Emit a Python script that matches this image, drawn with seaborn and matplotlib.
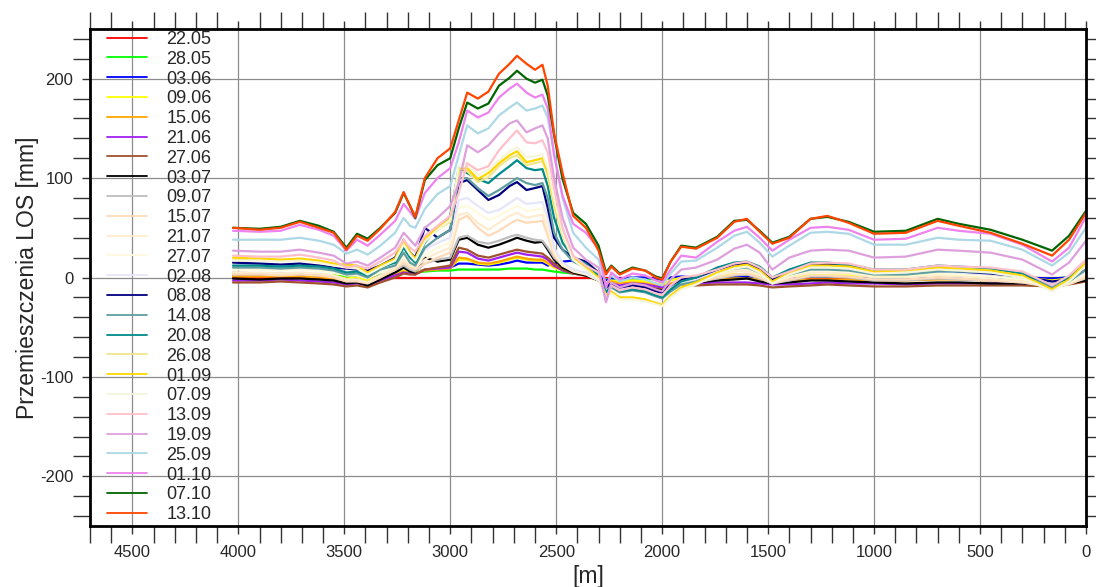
import numpy as np
import pandas as pd
import matplotlib
matplotlib.use("Agg")
import matplotlib.pyplot as plt
from matplotlib.ticker import MultipleLocator
import seaborn as sns

# distance along profile [m]
dist = [4025, 3900, 3800, 3710, 3620, 3550, 3490, 3440, 3390, 3330,
        3260, 3220, 3190, 3165, 3120, 3060, 3000, 2960, 2920, 2870,
        2820, 2770, 2720, 2685, 2640, 2600, 2565, 2540, 2510, 2470,
        2420, 2360, 2300, 2265, 2240, 2200, 2140, 2080, 2030, 2000,
        1960, 1910, 1840, 1740, 1660, 1600, 1540, 1480, 1400, 1300,
        1220, 1120, 1000, 850, 700, 600, 450, 300, 160, 80, 0]

d2205 = [0] * 61
d2805 = [3, 3, 3, 3, 3, 2, 1, 1, 0, 3,
         4, 5, 5, 5, 6, 7, 7, 8, 8, 8,
         8, 8, 9, 9, 9, 8, 8, 7, 6, 5,
         4, 2, 0, -2, -1, -2, -1, -1, -2, -2,
         -1, 0, 0, 1, 1, 1, 1, 0, 0, 1,
         1, 1, 0, 0, 0, 0, 0, 0, -1, 0, 1]
d0306 = [3, 3, 2, 3, 2, 1, -1, 0, -2, 2,
         4, 6, 5, 5, 8, 9, 10, 14, 14, 13,
         12, 13, 15, 17, 15, 15, 15, 12, 14, 16,
         17, 15, 2, -3, -1, -1, 0, 0, -1, -2,
         0, 1, 0, 1, 1, 1, 0, -1, 0, 1,
         1, 1, 0, 0, 1, 1, 0, 0, -1, 0, 2]
d0906 = [4, 4, 3, 4, 3, 2, -1, 0, -3, 2,
         4, 7, 5, 5, 8, 9, 10, 18, 18, 14,
         13, 15, 18, 20, 18, 17, 17, 14, 10, 7,
         5, 3, 0, -5, -3, -4, -3, -4, -6, -7,
         -3, 0, 1, 2, 3, 3, 2, 0, 1, 2,
         2, 2, 1, 1, 2, 2, 1, 0, -3, -1, 3]
d1506 = [1, 1, 1, 1, 0, -1, -4, -3, -5, 0,
         3, 6, 4, 4, 7, 8, 9, 20, 19, 15,
         14, 16, 19, 21, 19, 18, 18, 15, 11, 8,
         6, 3, -1, -6, -4, -6, -5, -6, -8, -9,
         -6, -3, -3, -2, -1, -1, -2, -4, -3, -2,
         -2, -2, -3, -3, -2, -2, -3, -3, -6, -4, 0]
d2106 = [-3, -3, -2, -3, -4, -5, -7, -6, -8, -3,
         2, 5, 4, 3, 8, 9, 10, 26, 25, 19,
         17, 20, 23, 25, 23, 22, 21, 18, 12, 7,
         4, 2, -2, -8, -6, -8, -6, -7, -9, -10,
         -8, -5, -6, -5, -5, -5, -6, -7, -7, -6,
         -5, -6, -6, -7, -6, -6, -6, -6, -10, -6, -2]
d2706 = [-5, -5, -4, -5, -6, -7, -9, -8, -10, -5,
         0, 4, 3, 3, 8, 10, 12, 30, 28, 22,
         20, 23, 26, 28, 26, 25, 24, 20, 14, 8,
         4, 2, -3, -10, -8, -10, -8, -9, -11, -12,
         -10, -7, -8, -7, -7, -7, -8, -10, -9, -8,
         -7, -8, -9, -9, -8, -8, -8, -8, -9, -7, -4]
d0307 = [-1, -2, -1, -1, -2, -3, -6, -5, -8, -2,
         5, 10, 6, 5, 20, 16, 18, 38, 40, 33,
         30, 33, 37, 40, 37, 35, 36, 28, 18, 10,
         5, 2, -3, -10, -8, -10, -8, -9, -12, -13,
         -9, -5, -5, -3, -2, -1, -4, -6, -5, -3,
         -3, -4, -5, -6, -5, -5, -6, -6, -8, -6, -3]
d0907 = [5, 4, 4, 4, 3, 1, -3, -2, -5, 1,
         8, 12, 8, 6, 14, 18, 20, 40, 42, 36,
         34, 37, 41, 43, 40, 38, 37, 30, 20, 12,
         8, 4, -2, -10, -8, -11, -9, -11, -14, -16,
         -11, -6, -5, -1, 2, 3, -1, -6, -3, 1,
         1, 0, -3, -3, -1, -2, -3, -5, -9, -6, -1]
d1507 = [3, 3, 2, 3, 2, 0, -4, -4, -6, 0,
         8, 15, 10, 8, 14, 20, 25, 58, 62, 50,
         42, 47, 54, 58, 55, 56, 57, 42, 22, 12,
         8, 4, -2, -10, -8, -12, -10, -12, -15, -17,
         -12, -7, -5, 0, 3, 4, 0, -6, -2, 2,
         2, 1, -2, -2, 0, -1, -3, -5, -10, -7, 0]
d2107 = [5, 5, 4, 5, 4, 2, -2, -2, -5, 2,
         10, 18, 12, 10, 18, 25, 30, 63, 65, 55,
         48, 55, 62, 65, 60, 62, 63, 48, 25, 12,
         6, 3, -3, -12, -9, -13, -11, -13, -16, -18,
         -12, -6, -4, 2, 6, 7, 2, -5, 0, 5,
         5, 4, 0, 0, 2, 1, -1, -4, -9, -6, 2]
d2707 = [8, 8, 7, 8, 7, 5, 2, 2, -1, 5,
         12, 22, 15, 12, 22, 30, 35, 70, 72, 65,
         58, 62, 68, 72, 67, 68, 70, 55, 28, 14,
         8, 4, -3, -12, -9, -13, -11, -13, -16, -18,
         -11, -5, -3, 4, 8, 9, 4, -4, 2, 7,
         7, 6, 2, 2, 4, 3, 1, -2, -8, -5, 4]
d0208 = [13, 12, 12, 13, 11, 9, 6, 6, 3, 8,
         18, 30, 20, 15, 28, 35, 40, 78, 80, 72,
         65, 68, 75, 80, 74, 75, 76, 60, 30, 15,
         8, 5, -3, -12, -8, -12, -10, -12, -15, -17,
         -10, -4, -2, 6, 11, 12, 7, -3, 4, 10,
         10, 9, 4, 4, 6, 5, 3, 0, -6, -3, 6]
d0808 = [15, 14, 13, 14, 12, 10, 9, 8, 7, 12,
         20, 38, 25, 20, 50, 40, 48, 95, 98, 88,
         78, 83, 92, 96, 88, 90, 92, 70, 40, 28,
         20, 16, 5, -10, -6, -10, -8, -10, -14, -15,
         -8, -2, 0, 8, 13, 14, 9, -2, 6, 13,
         13, 12, 6, 6, 8, 6, 4, 1, -4, -2, 8]
d1408 = [10, 10, 9, 10, 9, 7, 3, 4, 0, 8,
         12, 25, 15, 12, 30, 40, 48, 100, 100, 90,
         82, 88, 95, 100, 95, 93, 95, 80, 45, 28,
         16, 10, -2, -16, -10, -15, -13, -15, -19, -21,
         -14, -7, -4, 4, 9, 10, 5, -4, 3, 8,
         8, 7, 3, 3, 6, 6, 5, 1, -10, -4, 8]
d2008 = [12, 12, 11, 12, 11, 9, 5, 6, 2, 10,
         15, 30, 20, 15, 35, 50, 62, 110, 105, 99,
         95, 104, 112, 118, 110, 108, 109, 92, 60, 35,
         20, 14, 2, -15, -8, -14, -12, -14, -18, -20,
         -12, -4, 0, 10, 15, 16, 11, 0, 8, 15,
         15, 13, 8, 8, 12, 11, 9, 4, -8, 0, 14]
d2608 = [18, 18, 17, 18, 16, 13, 11, 10, 4, 11,
         18, 35, 24, 18, 38, 48, 56, 106, 107, 96,
         101, 112, 120, 123, 113, 115, 117, 103, 72, 42,
         18, 8, -2, -18, -15, -21, -21, -23, -25, -27,
         -19, -11, -6, 4, 10, 12, 6, -5, 4, 11,
         11, 10, 5, 6, 9, 8, 6, 1, -13, -3, 14]
d0109 = [20, 19, 18, 19, 17, 14, 13, 12, 5, 12,
         19, 38, 25, 19, 40, 50, 59, 109, 110, 99,
         105, 115, 123, 127, 116, 118, 120, 106, 75, 45,
         20, 10, 0, -18, -14, -20, -20, -22, -26, -28,
         -18, -10, -5, 5, 11, 13, 7, -4, 5, 12,
         12, 11, 6, 7, 10, 9, 7, 2, -12, -2, 15]
d0709 = [17, 17, 16, 17, 15, 12, 10, 9, 3, 10,
         17, 33, 23, 17, 36, 48, 58, 112, 115, 103,
         108, 118, 127, 131, 121, 122, 124, 110, 78, 45,
         18, 8, -2, -20, -16, -22, -22, -24, -27, -29,
         -20, -12, -7, 3, 9, 11, 5, -6, 3, 10,
         10, 9, 4, 5, 8, 7, 5, 0, -14, -4, 12]
d1309 = [22, 21, 21, 23, 20, 17, 10, 12, 9, 16,
         25, 38, 30, 26, 42, 52, 62, 85, 115, 108,
         112, 128, 140, 148, 136, 135, 138, 126, 90, 50,
         22, 12, 5, -24, -8, -13, -10, -12, -16, -18,
         -8, 0, 2, 8, 14, 16, 10, 0, 6, 14,
         15, 14, 8, 8, 12, 11, 10, 6, -8, 2, 18]
d1909 = [27, 26, 26, 28, 25, 22, 14, 16, 12, 20,
         30, 45, 38, 32, 50, 60, 72, 95, 133, 126,
         133, 145, 155, 158, 146, 150, 153, 140, 100, 60,
         30, 18, 10, -25, -5, -10, -6, -8, -12, -14,
         -2, 8, 10, 18, 29, 33, 25, 8, 20, 27,
         28, 27, 20, 21, 28, 27, 25, 18, 3, 15, 37]
d2509 = [38, 38, 38, 40, 37, 33, 24, 28, 23, 32,
         45, 60, 52, 50, 69, 84, 92, 123, 153, 145,
         150, 163, 171, 176, 168, 170, 173, 161, 125, 80,
         45, 30, 18, -8, 2, -4, 0, -2, -6, -8,
         4, 16, 17, 30, 42, 46, 35, 21, 32, 45,
         46, 44, 33, 33, 40, 38, 37, 28, 12, 25, 50]
d0110 = [47, 46, 47, 53, 48, 42, 27, 38, 32, 43,
         57, 74, 66, 59, 85, 100, 110, 136, 168, 161,
         166, 181, 190, 195, 186, 181, 184, 170, 123, 82,
         54, 45, 29, -10, 5, -2, 4, 2, -3, -5,
         8, 22, 20, 36, 47, 51, 40, 27, 38, 50,
         51, 48, 38, 39, 50, 47, 44, 33, 16, 30, 61]
d0710 = [50, 49, 51, 57, 52, 46, 30, 44, 39, 50,
         65, 85, 72, 60, 98, 113, 120, 150, 176, 170,
         175, 193, 201, 208, 200, 196, 199, 183, 143, 99,
         65, 54, 32, 5, 12, 4, 10, 7, 1, -1,
         16, 32, 30, 41, 57, 58, 47, 35, 41, 59,
         61, 56, 46, 47, 59, 54, 48, 38, 27, 42, 67]
d1310 = [50, 48, 50, 56, 50, 45, 28, 42, 37, 49,
         66, 86, 72, 61, 100, 120, 130, 158, 186, 180,
         187, 205, 215, 223, 215, 209, 214, 193, 145, 105,
         62, 50, 27, 3, 11, 3, 9, 7, 0, -2,
         16, 31, 29, 40, 56, 59, 46, 34, 40, 59,
         62, 55, 44, 45, 57, 52, 45, 34, 22, 38, 65]

dates = ["22.05", "28.05", "03.06", "09.06", "15.06", "21.06", "27.06",
         "03.07", "09.07", "15.07", "21.07", "27.07", "02.08", "08.08",
         "14.08", "20.08", "26.08", "01.09", "07.09", "13.09", "19.09",
         "25.09", "01.10", "07.10", "13.10"]
series = [d2205, d2805, d0306, d0906, d1506, d2106, d2706, d0307, d0907,
          d1507, d2107, d2707, d0208, d0808, d1408, d2008, d2608, d0109,
          d0709, d1309, d1909, d2509, d0110, d0710, d1310]
colors = ["#ff0000", "#00ff00", "#0000ff", "#ffff00", "#ffa500", "#a020f0",
          "#a0522d", "#000000", "#bebebe", "#ffdab9", "#ffebcd", "#fffadc",
          "#e6e6fa", "#000080", "#5f9ea0", "#008b8b", "#f0e68c", "#ffd700",
          "#f5f5dc", "#ffc0cb", "#dda0dd", "#add8e6", "#ee82ee", "#006400",
          "#ff4500"]

y_label = "Przemieszczenia LOS [mm]"
x_label = "[m]"

frames = [pd.DataFrame({"dist": dist, "disp": vals, "date": d})
          for d, vals in zip(dates, series)]
df = pd.concat(frames, ignore_index=True)

sns.set_style("white")
plt.rcParams["font.family"] = ["Liberation Sans", "DejaVu Sans"]
plt.rcParams["axes.unicode_minus"] = False

fig = plt.figure(figsize=(10.96, 5.87), dpi=100)
ax = fig.add_axes([90 / 1096, 1 - 526 / 587, 996 / 1096, 497 / 587])

ax.grid(True, which="major", color="#8c8c8c", linewidth=0.9)
ax.set_axisbelow(True)

sns.lineplot(data=df, x="dist", y="disp", hue="date", hue_order=dates,
             palette=dict(zip(dates, colors)), estimator=None, sort=True,
             linewidth=1.6, ax=ax, legend=False)

ax.set_xlim(4700, 0)
ax.set_ylim(-250, 250)
ax.xaxis.set_major_locator(MultipleLocator(500))
ax.xaxis.set_minor_locator(MultipleLocator(100))
ax.yaxis.set_major_locator(MultipleLocator(100))
ax.yaxis.set_minor_locator(MultipleLocator(20))
ax.tick_params(which="both", direction="out", top=True, right=True,
               bottom=True, left=True,
               color="#333333", width=1.0, labelsize=12)
ax.tick_params(which="major", length=6, pad=6)
ax.tick_params(axis="x", which="major", pad=8)
ax.tick_params(which="minor", length=12)
ax.tick_params(axis="x", which="major", labeltop=False)
for sp in ax.spines.values():
    sp.set_linewidth(2.0)
    sp.set_color("black")

ax.set_xlabel(x_label, fontsize=16.5, labelpad=3)
ax.set_ylabel(y_label, fontsize=16.5, labelpad=1)

handles = [plt.Line2D([], [], color=c, linewidth=1.3) for c in colors]
ax.legend(handles, dates, loc="upper left", bbox_to_anchor=(0.017, 0.996),
          frameon=False, fontsize=13, handlelength=2.2, handletextpad=1.1,
          labelspacing=0.155, borderpad=0.0, borderaxespad=0.0)

fig.savefig("out.png", dpi=100)
